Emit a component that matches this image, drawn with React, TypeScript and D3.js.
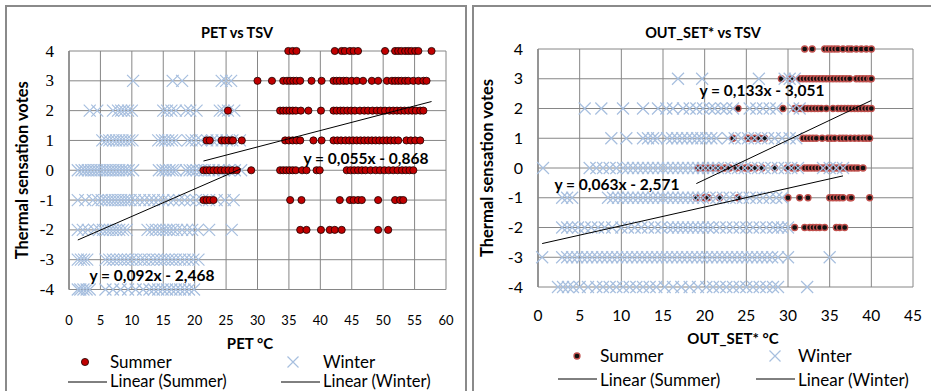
import React from "react";
import * as d3 from "d3";

// thermal sensation vote levels, rows of the series below follow this order
const tsvLevels = [4, 3, 2, 1, 0, -1, -2, -3, -4];
const tsvTicks = [4, 3, 2, 1, 0, -1, -2, -3, -4];
const petTicks = [0, 5, 10, 15, 20, 25, 30, 35, 40, 45, 50, 55, 60];
const setTicks = [0, 5, 10, 15, 20, 25, 30, 35, 40, 45];

// PET (°C) of each vote, summer
const petSummer = [
  [34.9, 35.6, 36.2, 42.3, 43.4, 43.9, 44.7, 45.3, 46.0, 50.3, 51.9, 52.4, 52.9, 53.5, 54.0, 54.5, 55.1, 55.6, 57.7],
  [30.0, 32.3, 34.1, 34.7, 35.2, 35.7, 36.2, 36.8, 38.6, 40.2, 42.1, 42.6, 43.1, 43.7, 44.2, 45.0, 45.8, 46.8, 48.2, 49.2, 50.6, 51.4, 51.9, 52.4, 52.9, 53.5, 54.0, 54.8, 55.6, 56.4, 56.9],
  [25.3, 33.6, 34.1, 34.6, 35.1, 35.6, 36.1, 36.9, 38.1, 40.1, 42.1, 42.6, 43.2, 43.7, 44.3, 44.9, 45.5, 46.3, 47.0, 47.6, 48.3, 49.0, 49.6, 50.3, 51.0, 51.6, 52.2, 52.8, 53.4, 54.0, 54.6, 55.2, 55.9, 56.4],
  [21.9, 22.4, 24.3, 24.8, 25.4, 25.9, 26.1, 27.5, 34.4, 35.0, 35.6, 36.2, 36.8, 38.9, 40.2, 42.1, 42.7, 43.3, 44.0, 44.6, 45.2, 45.8, 46.4, 47.0, 47.6, 48.2, 48.8, 49.4, 50.0, 50.6, 51.2, 51.8, 52.4, 53.7, 54.4, 55.1, 55.9],
  [21.4, 21.9, 22.4, 23.0, 23.6, 24.2, 24.8, 25.4, 26.0, 26.7, 29.0, 33.6, 34.1, 34.6, 35.1, 35.6, 36.1, 37.1, 37.8, 39.4, 39.9, 44.2, 44.8, 45.4, 46.0, 46.6, 47.2, 48.0, 48.8, 49.5, 50.2, 50.9, 51.6, 52.3, 53.0, 53.6, 54.2, 54.8],
  [21.4, 21.9, 22.4, 23.0, 35.2, 37.0, 43.1, 44.7, 45.3, 46.0, 46.6, 49.2, 51.9, 52.7, 53.2],
  [36.8, 37.8, 40.1, 41.5, 42.3, 43.4, 49.2, 50.8],
  [],
  [],
];

// PET (°C) of each vote, winter
const petWinter = [
  [],
  [10.2, 16.5, 18.0, 24.3, 25.0, 25.8],
  [3.3, 4.5, 7.0, 7.8, 8.3, 8.8, 9.4, 10.0, 15.0, 15.6, 16.3, 17.0, 18.6, 19.3, 20.3, 24.0, 24.6, 25.3, 26.3],
  [5.3, 5.9, 6.4, 7.0, 7.5, 8.0, 8.5, 9.0, 9.6, 10.1, 14.2, 14.8, 15.3, 15.8, 16.4, 17.0, 18.9, 19.5, 20.2, 21.0, 22.0, 22.8, 23.5, 24.3, 25.1, 26.0, 27.2],
  [1.4, 2.0, 2.5, 3.0, 3.5, 4.0, 4.5, 5.0, 5.5, 6.0, 6.5, 7.0, 7.5, 8.0, 8.5, 9.0, 9.5, 10.2, 14.3, 14.9, 15.4, 16.0, 16.5, 17.0, 18.6, 19.2, 19.7, 20.3, 21.0, 21.6, 22.3, 23.0, 23.8, 24.6, 25.5, 26.4, 27.4],
  [1.4, 2.6, 3.8, 4.6, 5.2, 5.8, 6.3, 6.8, 7.3, 7.8, 8.3, 8.8, 9.3, 9.8, 10.5, 11.3, 12.0, 12.8, 13.5, 14.2, 15.0, 15.8, 16.6, 17.5, 18.4, 19.3, 20.2, 21.2, 22.3, 23.5, 24.8, 26.2],
  [1.4, 2.2, 3.0, 4.0, 4.8, 5.4, 6.0, 6.5, 7.0, 7.5, 8.0, 8.6, 9.2, 12.5, 13.2, 13.8, 14.4, 15.0, 15.5, 16.0, 16.6, 17.2, 18.0, 18.8, 19.6, 20.5, 22.3, 25.9],
  [1.4, 1.9, 2.4, 2.9, 5.8, 6.4, 7.0, 7.6, 8.2, 8.8, 9.4, 10.0, 10.7, 11.4, 12.0, 12.7, 13.4, 14.0, 14.6, 15.2, 15.8, 16.4, 17.0, 17.7, 18.4, 19.1, 19.8, 20.6],
  [1.4, 1.8, 2.3, 2.8, 3.3, 5.8, 7.0, 8.2, 9.4, 10.6, 11.8, 12.8, 13.5, 14.2, 14.9, 15.6, 16.3, 17.0, 17.7, 18.4, 19.1, 19.9],
];

// OUT_SET* (°C) of each vote, summer
const setSummer = [
  [32.0, 32.9, 34.4, 34.8, 35.2, 35.6, 36.0, 36.6, 37.2, 37.6, 38.2, 38.8, 39.4, 40.0],
  [29.2, 30.4, 31.4, 31.8, 32.2, 32.6, 33.0, 33.4, 33.8, 34.2, 34.6, 35.0, 35.4, 35.8, 36.2, 36.6, 37.0, 37.4, 38.2, 38.6, 39.0, 39.4, 39.8, 40.0],
  [24.0, 29.4, 30.8, 31.2, 31.6, 32.0, 32.4, 32.8, 33.2, 33.6, 34.0, 34.6, 35.4, 36.0, 36.4, 36.8, 37.2, 37.6, 38.0, 38.4, 38.8, 39.2, 39.6, 40.0],
  [23.4, 25.2, 26.0, 26.6, 27.2, 31.8, 32.2, 32.6, 33.0, 33.4, 34.1, 34.8, 35.2, 35.6, 36.2, 36.6, 37.0, 37.5, 38.0, 38.5, 39.0, 39.4, 39.8],
  [19.2, 19.6, 20.0, 20.4, 20.8, 21.2, 21.6, 22.4, 23.0, 23.8, 24.4, 24.9, 25.5, 26.1, 26.9, 28.4, 29.9, 30.5, 31.1, 32.0, 32.4, 32.8, 33.2, 33.6, 34.0, 34.4, 34.8, 35.2, 35.6, 36.0, 36.4, 36.8, 37.2, 37.6, 38.0, 38.4, 39.0],
  [19.0, 20.0, 20.4, 21.8, 24.0, 30.0, 31.4, 32.4, 35.0, 35.4, 35.8, 36.2, 36.6, 37.4, 37.6, 39.8],
  [30.8, 32.0, 32.6, 33.0, 33.4, 33.8, 34.4, 35.8, 36.2, 36.8],
  [],
  [],
];

// OUT_SET* (°C) of each vote, winter
const setWinter = [
  [],
  [16.8, 19.7, 26.5, 29.6, 30.2, 30.8],
  [5.6, 7.6, 10.2, 12.6, 14.4, 15.4, 16.2, 17.4, 18.2, 19.0, 19.8, 20.6, 21.2, 22.0, 22.6, 23.4, 25.4, 26.2, 27.0, 27.8, 28.6, 30.6, 31.4],
  [8.8, 10.6, 12.6, 13.2, 13.8, 14.3, 15.5, 16.1, 16.7, 17.3, 17.9, 18.5, 19.1, 19.6, 20.2, 20.8, 21.4, 22.8, 23.6, 24.4, 25.2, 26.0, 26.8, 27.6, 28.4, 29.3, 30.2, 31.0],
  [0.6, 6.2, 7.0, 7.8, 8.6, 9.4, 10.2, 10.8, 11.4, 12.0, 12.6, 13.2, 13.8, 14.4, 15.0, 15.6, 16.2, 16.8, 17.4, 18.0, 18.6, 19.2, 19.8, 20.4, 21.0, 21.6, 22.4, 23.2, 24.0, 24.8, 25.6, 26.4, 27.2, 28.0, 28.8, 29.6, 30.4, 31.2, 34.2, 35.0, 35.8, 36.6],
  [2.9, 3.5, 4.1, 8.4, 9.0, 9.6, 10.2, 10.8, 11.4, 12.0, 12.6, 13.2, 13.8, 14.4, 15.0, 15.6, 16.2, 16.8, 17.4, 18.0, 18.6, 19.2, 19.8, 20.6, 21.4, 22.2, 23.0, 23.8, 24.6, 25.4, 26.2, 27.0, 27.8, 28.6, 29.3],
  [2.9, 3.5, 4.1, 4.8, 5.6, 6.4, 7.2, 8.0, 8.9, 10.0, 10.8, 11.6, 12.4, 13.2, 14.0, 14.8, 15.6, 16.2, 16.8, 17.4, 18.0, 18.6, 19.2, 19.8, 20.4, 21.0, 21.8, 22.6, 23.4, 24.2, 25.0, 25.8, 26.6, 27.4, 28.2, 28.8, 29.3, 30.0],
  [0.5, 2.9, 3.5, 4.1, 4.7, 5.3, 5.9, 6.5, 7.1, 7.7, 8.3, 8.9, 9.5, 10.1, 10.7, 11.3, 11.9, 12.5, 13.1, 13.7, 14.3, 14.9, 15.5, 16.1, 16.7, 17.3, 17.9, 18.5, 19.1, 19.7, 20.3, 20.9, 21.5, 22.1, 22.7, 23.3, 23.9, 24.5, 25.1, 25.7, 26.3, 26.9, 27.5, 28.1, 28.8, 30.0, 35.0],
  [2.4, 3.0, 3.6, 4.2, 5.0, 6.0, 7.0, 7.8, 8.6, 9.4, 10.2, 11.0, 11.8, 12.6, 13.4, 14.2, 15.2, 16.2, 17.2, 18.2, 19.2, 20.2, 21.0, 21.8, 22.6, 23.4, 24.2, 25.0, 25.8, 26.6, 27.4, 28.2, 28.8, 32.3],
];

// linear trendlines as printed on the charts: [slope, intercept]
const petSummerFit = [0.055, -0.868];
const petWinterFit = [0.092, -2.468];
const setSummerFit = [0.133, -3.051];
const setWinterFit = [0.063, -2.571];

const FONT = "Lato, 'Open Sans', sans-serif";
const GRID = "#868686";
const WINTER = "#a7bfdf";

const fmt = (v: number) => v.toFixed(3).replace(".", ",");
const eqText = (fit: number[]) =>
  `y = ${fmt(fit[0])}x - ${fmt(Math.abs(fit[1]))}`;

function toPoints(series: number[][]) {
  return series.flatMap((xs, i) => xs.map((v) => [v, tsvLevels[i]] as [number, number]));
}

function Cross({ cx, cy, s = 6 }: { cx: number; cy: number; s?: number }) {
  return (
    <path
      d={`M${cx - s},${cy - s}L${cx + s},${cy + s}M${cx - s},${cy + s}L${cx + s},${cy - s}`}
      stroke={WINTER}
      strokeWidth={1.2}
      fill="none"
    />
  );
}

function Dot({ cx, cy, kind }: { cx: number; cy: number; kind: string }) {
  if (kind === "red")
    return <circle cx={cx} cy={cy} r={3.6} fill="#c00000" stroke="#1a0000" strokeWidth={0.8} />;
  return <circle cx={cx} cy={cy} r={3} fill="#111" stroke="#c0504d" strokeWidth={1.3} />;
}

function Panel(p: any) {
  const x = d3.scaleLinear().domain([p.xTicks[0], p.xTicks[p.xTicks.length - 1]]).range([p.left, p.right]);
  const y = d3.scaleLinear().domain([-4, 4]).range([p.bottom, p.top]);
  const summer = toPoints(p.summer);
  const winter = toPoints(p.winter);
  const line = d3.line<[number, number]>().x((d) => x(d[0])).y((d) => y(d[1]));
  const trend = (pts: [number, number][], fit: number[]) => {
    const [a, b] = d3.extent(pts, (d) => d[0]) as [number, number];
    return line([a, b].map((v) => [v, fit[0] * v + fit[1]] as [number, number])) || "";
  };

  const summerMarks = (
    <g>
      {summer.map((d, i) => (
        <Dot key={i} cx={x(d[0])} cy={y(d[1])} kind={p.dotKind} />
      ))}
    </g>
  );
  const winterMarks = (
    <g>
      {winter.map((d, i) => (
        <Cross key={i} cx={x(d[0])} cy={y(d[1])} />
      ))}
    </g>
  );
  const lf = p.legendSize;

  return (
    <g fontFamily={FONT} fill="#000">
      <rect x={p.box[0]} y={p.box[1]} width={p.box[2]} height={p.box[3]} fill="#fff" stroke="#8a8a8a" strokeWidth={2} />
      <text x={p.titleX} y={38} textAnchor="middle" fontWeight="bold" fontSize={14.5}>{p.title}</text>

      {/* grid */}
      {p.xTicks.map((t: number) => (
        <line key={"gx" + t} x1={x(t)} x2={x(t)} y1={y(4)} y2={y(-4)} stroke={GRID} strokeWidth={1} />
      ))}
      {tsvTicks.map((t) => (
        <line key={"gy" + t} x1={p.left} x2={p.right} y1={y(t)} y2={y(t)} stroke={GRID} strokeWidth={1} />
      ))}
      <line x1={p.left} x2={p.left} y1={y(4)} y2={y(-4)} stroke="#8a8a8a" strokeWidth={1.6} />

      {/* marks */}
      {p.winterOnTop ? summerMarks : winterMarks}
      {p.winterOnTop ? winterMarks : summerMarks}

      <path d={trend(summer, p.summerFit)} stroke="#000" strokeWidth={1} fill="none" />
      <path d={trend(winter, p.winterFit)} stroke="#000" strokeWidth={1} fill="none" />

      {/* axes labels */}
      {tsvTicks.map((t) => (
        <text key={"ty" + t} x={p.left - 15} y={y(t) + 5.5} textAnchor="end" fontSize={p.yTickSize} fontFamily={p.yTickFont}>
          {t}
        </text>
      ))}
      {p.xTicks.map((t: number) => (
        <text key={"tx" + t} x={x(t)} y={p.xTickY} textAnchor="middle" fontSize={p.xTickSize}>
          {t}
        </text>
      ))}
      <text x={p.xTitleX} y={p.xTitleY} textAnchor="middle" fontWeight="bold" fontSize={15}>{p.xTitle}</text>
      <text
        transform={`translate(${p.yTitleX},${(y(4) + y(-4)) / 2}) rotate(-90)`}
        textAnchor="middle"
        fontWeight="bold"
        fontSize={16.5}
      >
        Thermal sensation votes
      </text>

      {/* equations */}
      <text x={p.eqSummer[0]} y={p.eqSummer[1]} textAnchor="middle" fontWeight="bold" fontSize={15.5}>{eqText(p.summerFit)}</text>
      <text x={p.eqWinter[0]} y={p.eqWinter[1]} textAnchor="middle" fontWeight="bold" fontSize={15.5}>{eqText(p.winterFit)}</text>

      {/* legend */}
      <Dot cx={p.leg[0]} cy={p.leg[4]} kind={p.dotKind} />
      <text x={p.leg[1]} y={p.leg[4] + 6} fontSize={lf}>Summer</text>
      <Cross cx={p.leg[2]} cy={p.leg[4]} s={5.5} />
      <text x={p.leg[3]} y={p.leg[4] + 6} fontSize={lf}>Winter</text>
      <line x1={p.leg[1] - 42} x2={p.leg[1] - 3} y1={p.leg[5]} y2={p.leg[5]} stroke="#000" />
      <text x={p.leg[1]} y={p.leg[6]} fontSize={lf - 0.5}>Linear (Summer)</text>
      <line x1={p.leg[3] - 42} x2={p.leg[3] - 3} y1={p.leg[5]} y2={p.leg[5]} stroke="#000" />
      <text x={p.leg[3]} y={p.leg[6]} fontSize={lf - 0.5}>Linear (Winter)</text>
    </g>
  );
}

export default function App() {
  return (
    <svg width={931} height={391} style={{ position: "absolute", left: 0, top: 0, background: "#fff" }}>
      <rect x={0} y={0} width={931} height={391} fill="#fff" />
      <Panel
        box={[6, 6, 460, 400]}
        title="PET vs TSV"
        titleX={237}
        left={69}
        right={446}
        top={51}
        bottom={289.5}
        xTicks={petTicks}
        summer={petSummer}
        winter={petWinter}
        summerFit={petSummerFit}
        winterFit={petWinterFit}
        dotKind="red"
        winterOnTop={false}
        yTickFont="'Liberation Serif', serif"
        yTickSize={17}
        xTickY={325}
        xTickSize={13}
        xTitle="PET °C"
        xTitleX={250}
        xTitleY={349}
        yTitleX={28}
        eqSummer={[366, 164]}
        eqWinter={[152, 281]}
        legendSize={17}
        leg={[85, 110, 293, 323, 362, 382, 386.5]}
      />
      <Panel
        box={[473, 6, 470, 400]}
        title="OUT_SET* vs TSV"
        titleX={703}
        left={538}
        right={913}
        top={49}
        bottom={287}
        xTicks={setTicks}
        summer={setSummer}
        winter={setWinter}
        summerFit={setSummerFit}
        winterFit={setWinterFit}
        dotKind="dark"
        winterOnTop={true}
        yTickFont={FONT}
        yTickSize={16}
        xTickY={321}
        xTickSize={15.5}
        xTitle="OUT_SET* °C"
        xTitleX={733}
        xTitleY={344}
        yTitleX={493}
        eqSummer={[762, 96]}
        eqWinter={[617, 190]}
        legendSize={17.5}
        leg={[577, 600, 775, 798, 356, 379, 386]}
      />
    </svg>
  );
}
